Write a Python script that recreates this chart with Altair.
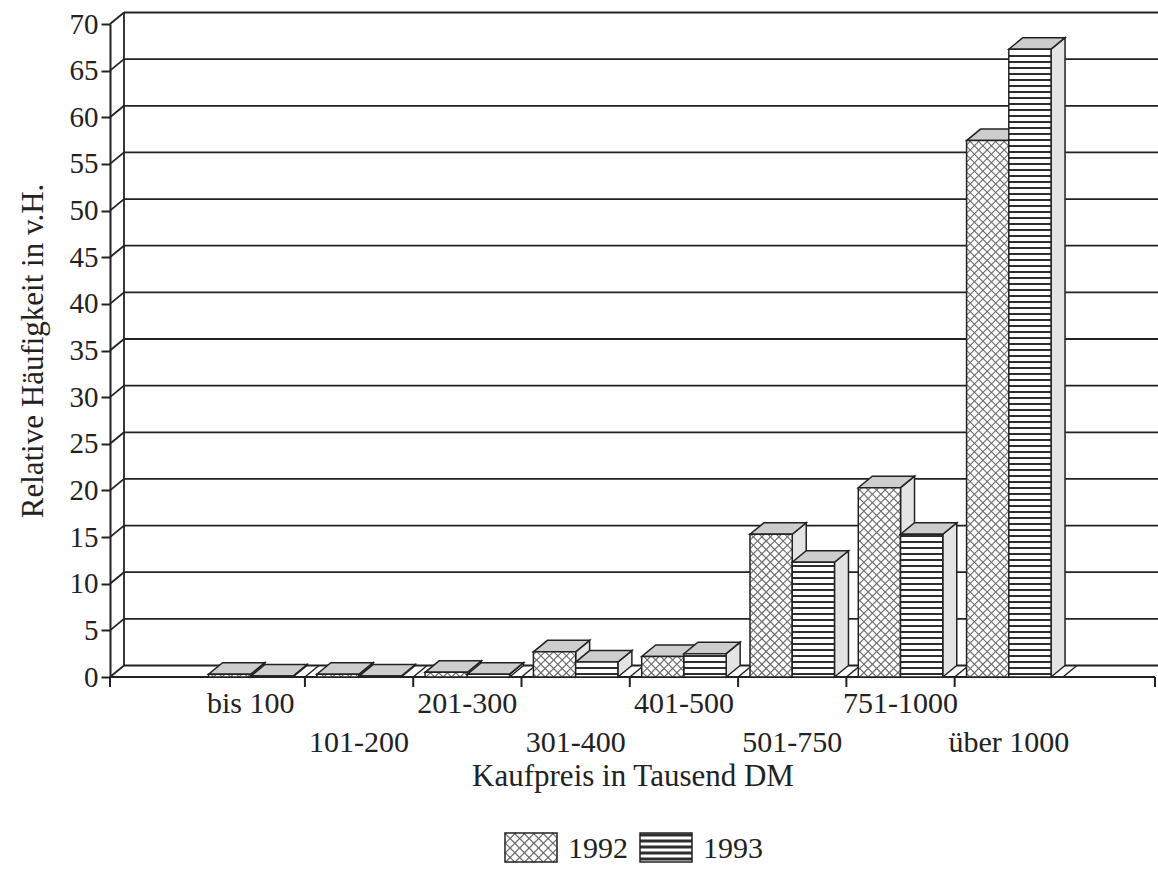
import altair as alt
import numpy as np
import pandas as pd

# ---- data -------------------------------------------------------------
categories = ["bis 100", "101-200", "201-300", "301-400",
              "401-500", "501-750", "751-1000", "über 1000"]
share_1992 = [0.3, 0.3, 0.5, 2.7, 2.2, 15.3, 20.3, 57.5]
share_1993 = [0.1, 0.1, 0.3, 1.6, 2.5, 12.3, 15.3, 67.3]
years = ["1992", "1993"]
y_ticks = list(range(0, 75, 5))

# ---- layout / style constants ------------------------------------------
PAD_L, PAD_T, PAD_R, PAD_B = 110, 24, 3, 194
W, H = 1045, 653
X_DOMAIN = [-0.8, 8.85]
Y_DOMAIN = [0, 70]
PX_X = W / (X_DOMAIN[1] - X_DOMAIN[0])   # pixels per category band
PX_Y = H / (Y_DOMAIN[1] - Y_DOMAIN[0])   # pixels per percent
DEPTH_X = 14 / PX_X                      # 3-D depth offset (x)
DEPTH_Y = 11.5 / PX_Y                    # 3-D depth offset (y)
X_RIGHT = X_DOMAIN[1] + 3 / PX_X         # back wall reaches the page edge
BAR_SLOTS = {"1992": (0.11, 0.50), "1993": (0.50, 0.89)}
FONT = "Liberation Serif"
INK = "#222222"
TOP_FILL = "#cdcdcd"
SIDE_FILL = "#e4e4e4"
HATCH_GREY = "#6a6a6a"

values = {"1992": share_1992, "1993": share_1993}


def to_u(px):
    return (px - PAD_L) / PX_X + X_DOMAIN[0]


def to_v(py):
    return (PAD_T + H - py) / PX_Y


X_AXIS = alt.Axis(title="Kaufpreis in Tausend DM", labels=False, ticks=False,
                  domain=False, grid=False, titlePadding=84,
                  titleFont=FONT, titleFontSize=31, titleFontWeight="normal",
                  titleColor=INK)
Y_AXIS = alt.Axis(title="Relative Häufigkeit in v.H.", values=y_ticks,
                  grid=False, tickSize=9, tickWidth=2, tickColor=INK,
                  domainWidth=2, domainColor=INK, labelPadding=3,
                  labelFont=FONT, labelFontSize=29, labelColor=INK,
                  titleFont=FONT, titleFontSize=31, titleFontWeight="normal",
                  titleColor=INK, titlePadding=20)
X_SCALE = alt.Scale(domain=X_DOMAIN, nice=False, zero=False)
Y_SCALE = alt.Scale(domain=Y_DOMAIN, nice=False, zero=False)


def X(field):
    return alt.X(f"{field}:Q", scale=X_SCALE, axis=X_AXIS)


def Y(field):
    return alt.Y(f"{field}:Q", scale=Y_SCALE, axis=Y_AXIS, stack=None)


def crosshatch(x0, x1, y0, y1, step=8.5):
    """Diagonal lattice clipped to a rectangle, returned in data units."""
    X0, X1, Y0, Y1 = x0 * PX_X, x1 * PX_X, y0 * PX_Y, y1 * PX_Y
    segs = []
    for k in range(int(np.floor((X0 - Y1) / step)), int(np.ceil((X1 - Y0) / step)) + 1):
        c = k * step
        a, b = max(X0, Y0 + c), min(X1, Y1 + c)
        if b - a > 0.6:
            segs.append((a, a - c, b, b - c))
    for k in range(int(np.floor((X0 + Y0) / step)), int(np.ceil((X1 + Y1) / step)) + 1):
        c = k * step
        a, b = max(X0, c - Y1), min(X1, c - Y0)
        if b - a > 0.6:
            segs.append((a, c - a, b, c - b))
    return [dict(x=a / PX_X, y=ay / PX_Y, x2=b / PX_X, y2=by / PX_Y)
            for a, ay, b, by in segs]


def stripes(x0, x1, y0, y1, step=6.0):
    rows = []
    py = y0 * PX_Y + step / 2
    while py < y1 * PX_Y - 1.0:
        rows.append(dict(x=x0, x2=x1, y=py / PX_Y))
        py += step
    return rows


# ---- back wall, floor and axes ------------------------------------------
wall_x = X_DOMAIN[0] + DEPTH_X
grid_df = pd.DataFrame({"x": wall_x, "x2": X_RIGHT,
                        "y": [t + DEPTH_Y for t in y_ticks]})
diag_df = pd.DataFrame({"x": X_DOMAIN[0], "x2": wall_x,
                        "y": y_ticks, "y2": [t + DEPTH_Y for t in y_ticks]})
wall_df = pd.DataFrame({"x": [wall_x], "y": [DEPTH_Y], "y2": [Y_DOMAIN[1] + DEPTH_Y]})
floor_df = pd.DataFrame({"x": [X_DOMAIN[0]], "x2": [X_DOMAIN[1]], "y": [0.0]})
tick_pos = [X_DOMAIN[0]] + list(range(1, len(categories))) + [X_DOMAIN[1]]
xtick_df = pd.DataFrame({"x": tick_pos, "y": 0.0, "y2": -10 / PX_Y})
slash_df = pd.DataFrame({"x": list(range(1, len(categories) + 1)), "y": 0.0})
slash_df["x2"] = slash_df["x"] + DEPTH_X
slash_df["y2"] = DEPTH_Y

rule_style = dict(color=INK, strokeWidth=1.8)
layers = [
    alt.Chart(grid_df).mark_rule(**rule_style).encode(x=X("x"), x2="x2", y=Y("y")),
    alt.Chart(diag_df).mark_rule(**rule_style).encode(x=X("x"), x2="x2", y=Y("y"), y2="y2"),
    alt.Chart(wall_df).mark_rule(**rule_style).encode(x=X("x"), y=Y("y"), y2="y2"),
    alt.Chart(floor_df).mark_rule(color=INK, strokeWidth=2).encode(x=X("x"), x2="x2", y=Y("y")),
    alt.Chart(xtick_df).mark_rule(color=INK, strokeWidth=2).encode(x=X("x"), y=Y("y"), y2="y2"),
    alt.Chart(slash_df).mark_rule(color=INK, strokeWidth=1.5).encode(x=X("x"), x2="x2", y=Y("y"), y2="y2"),
]

# ---- 3-D bars ------------------------------------------------------------
face_style = dict(stroke=INK, strokeWidth=1.5, strokeJoin="miter")
for year in years:
    lo, hi = BAR_SLOTS[year]
    fronts, tops, sides, hatch = [], [], [], []
    for i, v in enumerate(values[year]):
        x0, x1 = i + lo, i + hi
        bid = f"{year}-{i}"
        fronts.append(dict(x=x0, x2=x1, y=0.0, y2=v))
        tops += [dict(bid=bid, x=x0, lo=v, hi=v),
                 dict(bid=bid, x=x0 + DEPTH_X, lo=v, hi=v + DEPTH_Y),
                 dict(bid=bid, x=x1, lo=v, hi=v + DEPTH_Y),
                 dict(bid=bid, x=x1 + DEPTH_X, lo=v + DEPTH_Y, hi=v + DEPTH_Y)]
        sides += [dict(bid=bid, x=x1, lo=0.0, hi=v),
                  dict(bid=bid, x=x1 + DEPTH_X, lo=DEPTH_Y, hi=v + DEPTH_Y)]
        if year == "1992":
            hatch += crosshatch(x0, x1, 0.0, v)
        else:
            hatch += stripes(x0, x1, 0.0, v)
    layers.append(alt.Chart(pd.DataFrame(sides)).mark_area(
        fill=SIDE_FILL, orient="vertical", **face_style).encode(
        x=X("x"), y=Y("lo"), y2="hi", detail="bid:N"))
    layers.append(alt.Chart(pd.DataFrame(tops)).mark_area(
        fill=TOP_FILL, orient="vertical", **face_style).encode(
        x=X("x"), y=Y("lo"), y2="hi", detail="bid:N"))
    front_df = pd.DataFrame(fronts)
    layers.append(alt.Chart(front_df).mark_rect(fill="white").encode(
        x=X("x"), x2="x2", y=Y("y"), y2="y2"))
    if hatch:
        hdf = pd.DataFrame(hatch)
        if year == "1992":
            layers.append(alt.Chart(hdf).mark_rule(color=HATCH_GREY, strokeWidth=1.1).encode(
                x=X("x"), x2="x2", y=Y("y"), y2="y2"))
        else:
            layers.append(alt.Chart(hdf).mark_rule(color="#2e2e2e", strokeWidth=2.2).encode(
                x=X("x"), x2="x2", y=Y("y")))
    layers.append(alt.Chart(front_df).mark_rect(fill=None, **face_style).encode(
        x=X("x"), x2="x2", y=Y("y"), y2="y2"))

# ---- staggered category labels ------------------------------------------
lab_df = pd.DataFrame({"label": categories,
                       "x": [i + 0.5 for i in range(len(categories))],
                       "y": 0.0,
                       "row": [i % 2 for i in range(len(categories))]})
text_style = dict(font=FONT, fontSize=30, color=INK, baseline="alphabetic")
for row, dy in [(0, 36), (1, 75)]:
    layers.append(alt.Chart(lab_df[lab_df.row == row]).mark_text(
        align="center", dy=dy, **text_style).encode(
        x=X("x"), y=Y("y"), text="label:N"))

# ---- legend ---------------------------------------------------------------
sw = {"1992": (505, 557), "1993": (640, 692)}
sw_top, sw_bot = 833, 862
leg_rects, leg_text = [], []
leg_cross, leg_stripes = [], []
for year in years:
    a, b = sw[year]
    u0, u1, v0, v1 = to_u(a), to_u(b), to_v(sw_bot), to_v(sw_top)
    leg_rects.append(dict(x=u0, x2=u1, y=v0, y2=v1))
    leg_text.append(dict(x=to_u(b + 11), y=to_v(858), label=year))
    if year == "1992":
        leg_cross += crosshatch(u0, u1, v0, v1, step=9.5)
    else:
        leg_stripes += stripes(u0, u1, v0, v1, step=6.0)
leg_rect_df = pd.DataFrame(leg_rects)
layers += [
    alt.Chart(leg_rect_df).mark_rect(fill="white").encode(x=X("x"), x2="x2", y=Y("y"), y2="y2"),
    alt.Chart(pd.DataFrame(leg_cross)).mark_rule(color=HATCH_GREY, strokeWidth=1.1).encode(
        x=X("x"), x2="x2", y=Y("y"), y2="y2"),
    alt.Chart(pd.DataFrame(leg_stripes)).mark_rule(color="#2e2e2e", strokeWidth=3).encode(
        x=X("x"), x2="x2", y=Y("y")),
    alt.Chart(leg_rect_df).mark_rect(fill=None, **face_style).encode(
        x=X("x"), x2="x2", y=Y("y"), y2="y2"),
    alt.Chart(pd.DataFrame(leg_text)).mark_text(align="left", **text_style).encode(
        x=X("x"), y=Y("y"), text="label:N"),
]

chart = alt.layer(*layers).properties(
    width=W, height=H,
    padding={"left": PAD_L, "top": PAD_T, "right": PAD_R, "bottom": PAD_B},
    autosize=alt.AutoSizeParams(type="none"),
    background="white",
).configure_view(stroke=None)

chart.save("out.html", embed_options={"renderer": "svg", "actions": False})
